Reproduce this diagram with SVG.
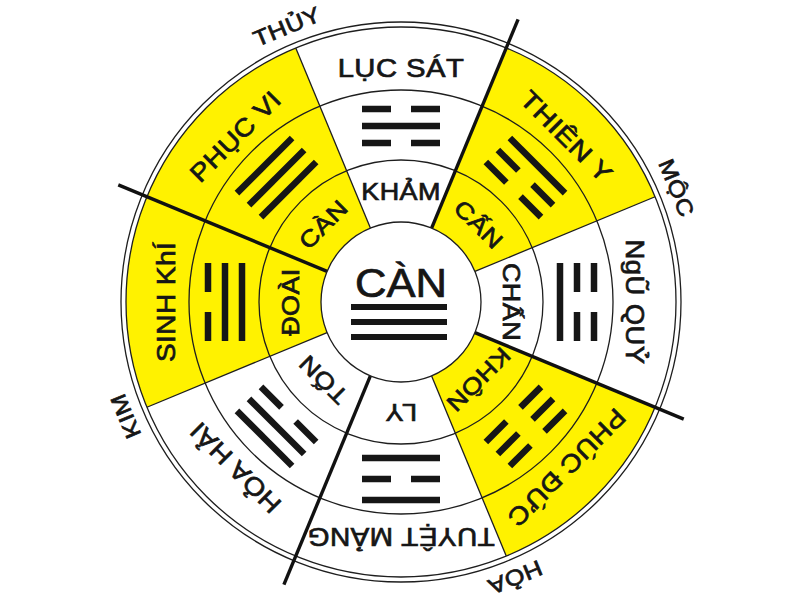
<svg xmlns="http://www.w3.org/2000/svg" width="800" height="600" viewBox="0 0 800 600">
<defs>
<style>
.ring{fill:none;stroke:#1e1e1e;stroke-width:1.3}
.thin{stroke:#1e1e1e;stroke-width:1.3}
.thick{stroke:#111;stroke-width:3.4}
.yel{fill:#FFF200}
.t{font-family:"Liberation Sans",Arial,sans-serif;fill:#161616;stroke:#161616;stroke-width:0.7px;text-anchor:middle;dominant-baseline:central}
.lbl{font-size:25px;letter-spacing:0.4px}
.nm{font-size:23px;letter-spacing:0.4px}
.el{font-size:22px;letter-spacing:0.4px}
.bar{fill:#161616}
</style>
<path id="ysec" class="yel" d="M295.76,47.93 A275,275 0 0 1 506.24,47.93 L431.61,228.09 A80,80 0 0 0 370.39,228.09 Z"/>
<g id="yang"><rect x="-39" y="-3.25" width="78" height="6.5"/></g>
<g id="yin"><rect x="-39" y="-3.25" width="29" height="6.5"/><rect x="10" y="-3.25" width="29" height="6.5"/></g>
</defs>
<rect width="800" height="600" fill="#fff"/>

<g id="sector-luc-sat" transform="rotate(0 401 302)">
  <text class="t lbl" transform="translate(401 68) scale(1.17 1)">LỤC SÁT</text>
  <g class="bar" transform="translate(401 126)"><use href="#yin" y="-17"/><use href="#yang"/><use href="#yin" y="17"/></g>
  <text class="t nm" transform="translate(401 192) scale(1.17 1)">KHẢM</text>
</g>
<g id="sector-thien-y" transform="rotate(45 401 302)">
  <use href="#ysec"/>
  <text class="t lbl" transform="translate(401 68) scale(1.17 1)">THIÊN Y</text>
  <g class="bar" transform="translate(401 126)"><use href="#yang" y="-17"/><use href="#yin"/><use href="#yin" y="17"/></g>
  <text class="t nm" transform="translate(401 192) scale(1.17 1)">CẤN</text>
</g>
<g id="sector-ngu-quy" transform="rotate(90 401 302)">
  <text class="t lbl" transform="translate(401 68) scale(1.1 1)">NgŨ QUỶ</text>
  <g class="bar" transform="translate(401 126)"><use href="#yin" y="-17"/><use href="#yin"/><use href="#yang" y="17"/></g>
  <text class="t nm" transform="translate(401 192) scale(1.17 1)">CHẤN</text>
</g>
<g id="sector-phuc-duc" transform="rotate(135 401 302)">
  <use href="#ysec"/>
  <text class="t lbl" transform="translate(401 68) scale(1.12 1)">PHÚC ĐỨC</text>
  <g class="bar" transform="translate(401 126)"><use href="#yin" y="-17"/><use href="#yin"/><use href="#yin" y="17"/></g>
  <text class="t nm" transform="translate(401 192) scale(1.17 1)">KHÔN</text>
</g>
<g id="sector-tuyet-mang" transform="rotate(180 401 302)">
  <text class="t lbl" transform="translate(401 68) scale(1.12 1)">TUYỆT MẢNG</text>
  <g class="bar" transform="translate(401 125)"><use href="#yang" y="-21"/><use href="#yin"/><use href="#yang" y="21"/></g>
  <text class="t nm" transform="translate(401 192) scale(1.17 1)">LY</text>
</g>
<g id="sector-hoa-hai" transform="rotate(225 401 302)">
  <text class="t lbl" transform="translate(401 68) scale(1.12 1)">HỎA HẢI</text>
  <g class="bar" transform="translate(401 126)"><use href="#yang" y="-17"/><use href="#yang"/><use href="#yin" y="17"/></g>
  <text class="t nm" transform="translate(401 192) scale(1.17 1)">TỐN</text>
</g>
<g id="sector-sinh-khi" transform="rotate(270 401 302)">
  <use href="#ysec"/>
  <text class="t lbl" transform="translate(401 68) scale(1.12 1)">SINH KhÍ</text>
  <g class="bar" transform="translate(401 126)"><use href="#yin" y="-17"/><use href="#yang"/><use href="#yang" y="17"/></g>
  <text class="t nm" transform="translate(401 192) scale(1.17 1)">ĐOÀI</text>
</g>
<g id="sector-phuc-vi" transform="rotate(315 401 302)">
  <use href="#ysec"/>
  <text class="t lbl" transform="translate(401 68) scale(1.12 1)">PHỤC VI</text>
  <g class="bar" transform="translate(401 126)"><use href="#yang" y="-17"/><use href="#yang"/><use href="#yang" y="17"/></g>
  <text class="t nm" transform="translate(401 192) scale(1.17 1)">CÀN</text>
</g>

<g id="rings">
  <circle class="ring" cx="401" cy="302" r="280"/>
  <circle class="ring" cx="401" cy="302" r="275"/>
  <circle class="ring" cx="401" cy="302" r="212"/>
  <circle class="ring" cx="401" cy="302" r="142"/>
</g>

<g id="connectors">
  <line class="thin" x1="370.39" y1="228.09" x2="295.76" y2="47.93"/>
  <line class="thin" x1="474.91" y1="271.39" x2="655.07" y2="196.76"/>
  <line class="thin" x1="431.61" y1="375.91" x2="506.24" y2="556.07"/>
  <line class="thin" x1="327.09" y1="332.61" x2="146.93" y2="407.24"/>
  <line class="thick" x1="431.61" y1="228.09" x2="518.10" y2="19.29"/>
  <line class="thick" x1="474.91" y1="332.61" x2="683.71" y2="419.10"/>
  <line class="thick" x1="370.39" y1="375.91" x2="283.90" y2="584.71"/>
  <line class="thick" x1="327.09" y1="271.39" x2="118.29" y2="184.90"/>
</g>

<g id="center-can">
  <circle cx="401" cy="302" r="80" fill="#fff" stroke="#1e1e1e" stroke-width="1.3"/>
  <text class="t" style="font-size:40px;dominant-baseline:auto" transform="translate(401 297) scale(1.09 1)">CÀN</text>
  <rect class="bar" x="351" y="304" width="96" height="6"/>
  <rect class="bar" x="351" y="319" width="96" height="6"/>
  <rect class="bar" x="351" y="334" width="96" height="6"/>
</g>

<g id="elements">
  <g transform="rotate(-22.5 401 302)"><text id="el-thuy" class="t el" transform="translate(401 4) scale(1.15 1)">THỦY</text></g>
  <g transform="rotate(67.5 401 302)"><text id="el-moc" class="t el" transform="translate(401 4) scale(1.15 1)">MỘC</text></g>
  <g transform="rotate(157.5 401 302)"><text id="el-hoa" class="t el" transform="translate(401 4) scale(1.15 1)">HỎA</text></g>
  <g transform="rotate(247.5 401 302)"><text id="el-kim" class="t el" transform="translate(401 4) scale(1.15 1)">KIM</text></g>
</g>
</svg>
